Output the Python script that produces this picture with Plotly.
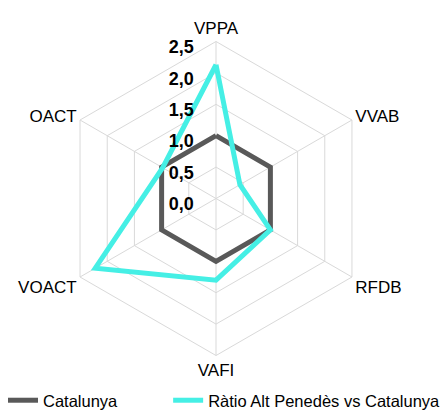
import plotly.graph_objects as go

categories = ["VPPA", "VVAB", "RFDB", "VAFI", "VOACT", "OACT"]
catalunya = [1.0, 1.0, 1.0, 1.0, 1.0, 1.0]
ratio = [2.13, 0.44, 1.0, 1.3, 2.22, 0.98]
tick_vals = [0, 0.5, 1.0, 1.5, 2.0, 2.5]
tick_text = ["0,0", "0,5", "1,0", "1,5", "2,0", "2,5"]
series_names = ["Catalunya", "Ràtio Alt Penedès vs Catalunya"]

FONT = "Liberation Sans, Arial, sans-serif"
PAD = "\u00a0" * 6

fig = go.Figure()
fig.add_trace(go.Scatterpolar(
    r=catalunya + catalunya[:1], theta=categories + categories[:1],
    mode="lines", name=series_names[0] + "\u00a0" * 10,
    line=dict(color="#595959", width=5)))
fig.add_trace(go.Scatterpolar(
    r=ratio + ratio[:1], theta=categories + categories[:1],
    mode="lines", name=series_names[1],
    line=dict(color="#45EFE5", width=5)))

cy = 211.5
fig.update_layout(
    width=444, height=410,
    margin=dict(l=0, r=0, t=0, b=0, autoexpand=False),
    paper_bgcolor="white",
    font=dict(family=FONT, size=17, color="black"),
    polar=dict(
        domain=dict(x=[59/444, 373/444], y=[(cy-157)/410, (cy+157)/410]),
        bgcolor="white",
        gridshape="linear",
        angularaxis=dict(
            rotation=90, direction="clockwise",
            showgrid=True, gridcolor="#d9d9d9", gridwidth=1,
            showline=True, linecolor="#d9d9d9", linewidth=1,
            ticks="", tickfont=dict(size=17, family=FONT, color="black")),
        radialaxis=dict(
            range=[0, 2.5], tickvals=tick_vals,
            ticktext=["<br><span style='font-size:18px'>" + t + "</span>" + PAD
                      for t in tick_text],
            angle=90, tickangle=90, side="counterclockwise",
            showline=False, ticks="",
            showgrid=True, gridcolor="#d9d9d9", gridwidth=1,
            tickfont=dict(size=12, family=FONT, color="black", weight="bold")),
    ),
    legend=dict(orientation="h", x=3/444, y=-8/410, xanchor="left", yanchor="bottom",
                font=dict(size=16.5, family=FONT, color="black"),
                bgcolor="rgba(0,0,0,0)"),
)

fig.write_html("out.html", config={"displayModeBar": False},
               post_script="document.body.style.margin='0';document.body.style.overflow='hidden';")
